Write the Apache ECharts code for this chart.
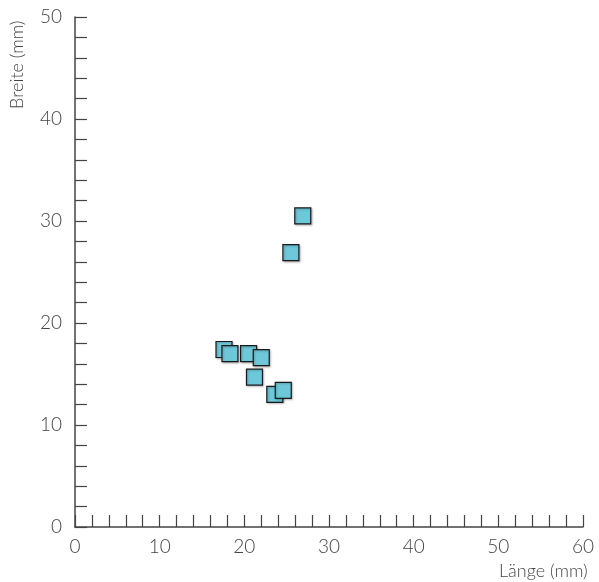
<!DOCTYPE html>
<html><head><meta charset="utf-8">
<script src="https://cdn.jsdelivr.net/npm/echarts@6/dist/echarts.min.js"></script>
<style>html,body{margin:0;padding:0;background:#fff}#c{width:599px;height:582px}</style>
</head><body><div id="c"></div>
<script>
const lengthMm = [17.6, 18.3, 20.5, 22.0, 21.2, 23.6, 24.6, 25.5, 26.9];
const widthMm  = [17.4, 17.0, 17.0, 16.6, 14.7, 13.0, 13.4, 26.9, 30.5];
const xTitle = 'Länge (mm)';
const yTitle = 'Breite (mm)';

const font = 'Lato';
const chart = echarts.init(document.getElementById('c'));
chart.setOption({
  animation: false,
  backgroundColor: '#fff',
  grid: {left: 75, right: 16, top: 17, bottom: 55, containLabel: false},
  xAxis: {
    type: 'value', min: 0, max: 60, interval: 2,
    axisLine: {show: true, lineStyle: {color: '#444', width: 1.5}},
    axisTick: {show: true, inside: true, length: 12, lineStyle: {color: '#444', width: 1.2}},
    splitLine: {show: false},
    axisLabel: {margin: 10, color: '#444', fontFamily: font, fontWeight: 300, fontSize: 19,
      formatter: v => (v % 10 === 0 ? String(v) : '')}
  },
  yAxis: {
    type: 'value', min: 0, max: 50, interval: 2,
    axisLine: {show: true, lineStyle: {color: '#444', width: 1.5}},
    axisTick: {show: true, inside: true, length: 12, lineStyle: {color: '#444', width: 1.2}},
    splitLine: {show: false},
    axisLabel: {margin: 13, color: '#444', fontFamily: font, fontWeight: 300, fontSize: 19,
      formatter: v => (v % 10 === 0 ? String(v) : '')}
  },
  graphic: [
    {type: 'text', left: 499, top: 562, style: {text: xTitle, font: '300 18px ' + font, fill: '#444'}},
    {type: 'text', x: 8, y: 109, rotation: Math.PI / 2,
      style: {text: yTitle, font: '300 18px ' + font, fill: '#444', textAlign: 'left', textVerticalAlign: 'top'}}
  ],
  series: [{
    type: 'scatter',
    symbol: 'rect', symbolSize: 16,
    data: lengthMm.map((x, i) => [x, widthMm[i]]),
    itemStyle: {color: '#6EC8DA', borderColor: '#1a1a1a', borderWidth: 1.2,
      shadowBlur: 2, shadowColor: 'rgba(0,0,0,0.25)', shadowOffsetX: 1, shadowOffsetY: 1, opacity: 1}
  }]
});
</script></body></html>
